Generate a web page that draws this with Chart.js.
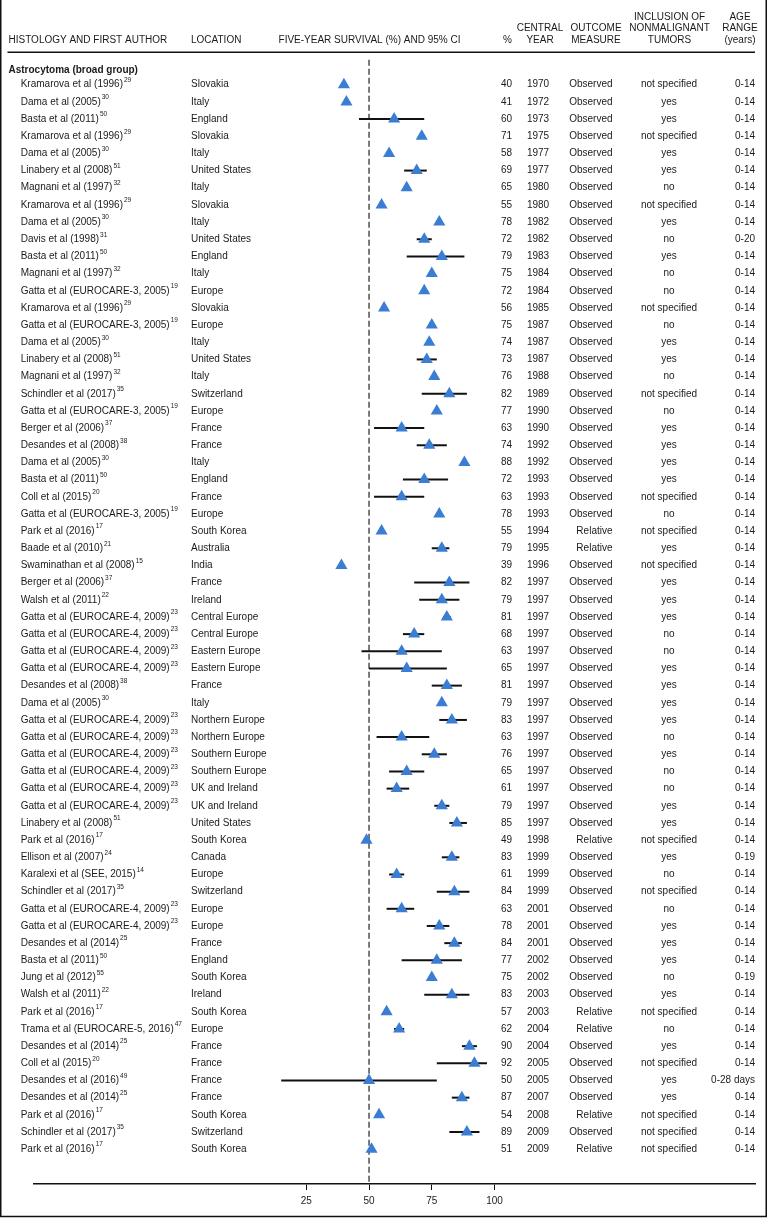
<!DOCTYPE html>
<html><head><meta charset="utf-8">
<script src="https://cdn.jsdelivr.net/npm/chart.js@4.4.0/dist/chart.umd.min.js"></script>
<style>html,body{margin:0;padding:0;background:#fff;}#wrap{position:relative;width:768px;height:1218px;}</style>
</head><body><div id="wrap"><canvas id="c" width="768" height="1218"></canvas></div>
<script>
const groupTitle = 'Astrocytoma (broad group)';
const authors = [
 'Kramarova et al (1996)','Dama et al (2005)','Basta et al (2011)','Kramarova et al (1996)','Dama et al (2005)',
 'Linabery et al (2008)','Magnani et al (1997)','Kramarova et al (1996)','Dama et al (2005)','Davis et al (1998)',
 'Basta et al (2011)','Magnani et al (1997)','Gatta et al (EUROCARE-3, 2005)','Kramarova et al (1996)','Gatta et al (EUROCARE-3, 2005)',
 'Dama et al (2005)','Linabery et al (2008)','Magnani et al (1997)','Schindler et al (2017)','Gatta et al (EUROCARE-3, 2005)',
 'Berger et al (2006)','Desandes et al (2008)','Dama et al (2005)','Basta et al (2011)','Coll et al (2015)',
 'Gatta et al (EUROCARE-3, 2005)','Park et al (2016)','Baade et al (2010)','Swaminathan et al (2008)','Berger et al (2006)',
 'Walsh et al (2011)','Gatta et al (EUROCARE-4, 2009)','Gatta et al (EUROCARE-4, 2009)','Gatta et al (EUROCARE-4, 2009)','Gatta et al (EUROCARE-4, 2009)',
 'Desandes et al (2008)','Dama et al (2005)','Gatta et al (EUROCARE-4, 2009)','Gatta et al (EUROCARE-4, 2009)','Gatta et al (EUROCARE-4, 2009)',
 'Gatta et al (EUROCARE-4, 2009)','Gatta et al (EUROCARE-4, 2009)','Gatta et al (EUROCARE-4, 2009)','Linabery et al (2008)','Park et al (2016)',
 'Ellison et al (2007)','Karalexi et al (SEE, 2015)','Schindler et al (2017)','Gatta et al (EUROCARE-4, 2009)','Gatta et al (EUROCARE-4, 2009)',
 'Desandes et al (2014)','Basta et al (2011)','Jung et al (2012)','Walsh et al (2011)','Park et al (2016)',
 'Trama et al (EUROCARE-5, 2016)','Desandes et al (2014)','Coll et al (2015)','Desandes et al (2016)','Desandes et al (2014)',
 'Park et al (2016)','Schindler et al (2017)','Park et al (2016)'];
const refs = [
 '29','30','50','29','30','51','32','29','30','31',
 '50','32','19','29','19','30','51','32','35','19',
 '37','38','30','50','20','19','17','21','15','37',
 '22','23','23','23','23','38','30','23','23','23',
 '23','23','23','51','17','24','14','35','23','23',
 '25','50','55','22','17','47','25','20','49','25',
 '17','35','17'];
const locations = [
 'Slovakia','Italy','England','Slovakia','Italy','United States','Italy','Slovakia','Italy','United States',
 'England','Italy','Europe','Slovakia','Europe','Italy','United States','Italy','Switzerland','Europe',
 'France','France','Italy','England','France','Europe','South Korea','Australia','India','France',
 'Ireland','Central Europe','Central Europe','Eastern Europe','Eastern Europe','France','Italy','Northern Europe','Northern Europe','Southern Europe',
 'Southern Europe','UK and Ireland','UK and Ireland','United States','South Korea','Canada','Europe','Switzerland','Europe','Europe',
 'France','England','South Korea','Ireland','South Korea','Europe','France','France','France','France',
 'South Korea','Switzerland','South Korea'];
const survival = [
 40,41,60,71,58,69,65,55,78,72,
 79,75,72,56,75,74,73,76,82,77,
 63,74,88,72,63,78,55,79,39,82,
 79,81,68,63,65,81,79,83,63,76,
 65,61,79,85,49,83,61,84,63,78,
 84,77,75,83,57,62,90,92,50,87,
 54,89,51];
const ciLow = [
 null,null,46,null,null,64,null,null,null,69,
 65,null,null,null,null,null,69,null,71,null,
 52,69,null,63.5,52,null,null,75,null,68,
 70,79.5,63.5,47,50,75,null,78,53,71,
 58,57,76,82,null,79,58,77,57,73,
 80,63,null,72,null,60,87,77,15,83,
 null,82,null];
const ciHigh = [
 null,null,72,null,null,73,null,null,null,75,
 88,null,null,null,null,null,77,null,89,null,
 72,81,null,81.5,72,null,null,82,null,90,
 86,82.5,72,79,81,87,null,89,74,81,
 72,66,82,89,null,86,64,90,68,82,
 87,87,null,90,null,64,93,97,77,90,
 null,94,null];
const centralYear = [
 1970,1972,1973,1975,1977,1977,1980,1980,1982,1982,
 1983,1984,1984,1985,1987,1987,1987,1988,1989,1990,
 1990,1992,1992,1993,1993,1993,1994,1995,1996,1997,
 1997,1997,1997,1997,1997,1997,1997,1997,1997,1997,
 1997,1997,1997,1997,1998,1999,1999,1999,2001,2001,
 2001,2002,2002,2003,2003,2004,2004,2005,2005,2007,
 2008,2009,2009];
const outcome = [
 'Observed','Observed','Observed','Observed','Observed','Observed','Observed','Observed','Observed','Observed',
 'Observed','Observed','Observed','Observed','Observed','Observed','Observed','Observed','Observed','Observed',
 'Observed','Observed','Observed','Observed','Observed','Observed','Relative','Relative','Observed','Observed',
 'Observed','Observed','Observed','Observed','Observed','Observed','Observed','Observed','Observed','Observed',
 'Observed','Observed','Observed','Observed','Relative','Observed','Observed','Observed','Observed','Observed',
 'Observed','Observed','Observed','Observed','Relative','Relative','Observed','Observed','Observed','Observed',
 'Relative','Observed','Relative'];
const inclusion = [
 'not specified','yes','yes','not specified','yes','yes','no','not specified','yes','no',
 'yes','no','no','not specified','no','yes','yes','no','not specified','no',
 'yes','yes','yes','yes','not specified','no','not specified','yes','not specified','yes',
 'yes','yes','no','no','yes','yes','yes','yes','no','yes',
 'no','no','yes','yes','not specified','yes','no','not specified','no','yes',
 'yes','yes','no','yes','not specified','no','yes','not specified','yes','yes',
 'not specified','not specified','not specified'];
const ageRange = [
 '0-14','0-14','0-14','0-14','0-14','0-14','0-14','0-14','0-14','0-20',
 '0-14','0-14','0-14','0-14','0-14','0-14','0-14','0-14','0-14','0-14',
 '0-14','0-14','0-14','0-14','0-14','0-14','0-14','0-14','0-14','0-14',
 '0-14','0-14','0-14','0-14','0-14','0-14','0-14','0-14','0-14','0-14',
 '0-14','0-14','0-14','0-14','0-14','0-19','0-14','0-14','0-14','0-14',
 '0-14','0-14','0-19','0-14','0-14','0-14','0-14','0-14','0-28 days','0-14',
 '0-14','0-14','0-14'];
const xTicks = [25,50,75,100];
const referenceValue = 50;

const FONT = '"Liberation Sans", Arial, Helvetica, sans-serif';
const TXT = '#1a1a1a';
const BLUE = '#3a7dd3';

const datasets = [];
datasets.push({
  label:'survival', data: survival.map((v,i)=>({x:v,y:i+1})),
  pointStyle:'triangle', pointRadius:7, pointHoverRadius:7,
  backgroundColor:BLUE, borderColor:BLUE, borderWidth:0, showLine:false, order:0
});
ciLow.forEach((lo,i)=>{
  if(lo===null) return;
  datasets.push({label:'ci'+i, data:[{x:lo,y:i+1},{x:ciHigh[i],y:i+1}], showLine:true,
    borderColor:'#111', borderWidth:2, pointRadius:0, order:1});
});
datasets.push({label:'ref', data:[{x:referenceValue,y:-0.45},{x:referenceValue,y:65.03}], showLine:true,
  borderColor:'#222', borderWidth:1.2, borderDash:[6,3], pointRadius:0, order:2});

const textPlugin = {
  id:'forestText',
  afterDraw(chart){
    const ctx = chart.ctx, ys = chart.scales.y;
    ctx.save();
    ctx.fillStyle = TXT;
    ctx.textBaseline = 'middle';
    // header
    ctx.font = '10px '+FONT;
    const hy = [17, 28.7, 40.3];
    ctx.textAlign='left';
    ctx.fillText('HISTOLOGY AND FIRST AUTHOR', 8.5, hy[2]);
    ctx.fillText('LOCATION', 191, hy[2]);
    ctx.textAlign='center';
    ctx.fillText('FIVE-YEAR SURVIVAL (%) AND 95% CI', 369.5, hy[2]);
    ctx.textAlign='right';
    ctx.fillText('%', 512, hy[2]);
    ctx.textAlign='center';
    ctx.fillText('CENTRAL', 540, hy[1]); ctx.fillText('YEAR', 540, hy[2]);
    ctx.fillText('OUTCOME', 596, hy[1]); ctx.fillText('MEASURE', 596, hy[2]);
    ctx.fillText('INCLUSION OF', 669.5, hy[0]); ctx.fillText('NONMALIGNANT', 669.5, hy[1]); ctx.fillText('TUMORS', 669.5, hy[2]);
    ctx.fillText('AGE', 740, hy[0]); ctx.fillText('RANGE', 740, hy[1]); ctx.fillText('(years)', 740, hy[2]);
    // header rule
    ctx.strokeStyle='#111'; ctx.lineWidth=1.5;
    ctx.beginPath(); ctx.moveTo(7.5,52.3); ctx.lineTo(755,52.3); ctx.stroke();
    // group title
    ctx.textAlign='left';
    ctx.font = 'bold 10px '+FONT;
    ctx.fillText(groupTitle, 8.5, ys.getPixelForValue(0.13));
    // rows
    authors.forEach((a,i)=>{
      const y = ys.getPixelForValue(i+1);
      ctx.font = '10px '+FONT;
      ctx.textAlign='left';
      ctx.fillText(a, 20.7, y);
      const w = ctx.measureText(a).width;
      ctx.fillText(locations[i], 191, y);
      ctx.textAlign='right';
      ctx.fillText(String(survival[i]), 512, y);
      ctx.textAlign='center';
      ctx.fillText(String(centralYear[i]), 538, y);
      ctx.textAlign='right';
      ctx.fillText(outcome[i], 612.5, y);
      ctx.textAlign='center';
      ctx.fillText(inclusion[i], 669, y);
      ctx.textAlign='right';
      ctx.fillText(ageRange[i], 755, y);
      ctx.font = '6.5px '+FONT;
      ctx.textAlign='left';
      ctx.fillText(refs[i], 20.7+w+1, y-4.5);
    });
    // frame
    ctx.strokeStyle='#111'; ctx.lineWidth=1.5;
    ctx.beginPath();
    ctx.moveTo(0.75,0); ctx.lineTo(0.75,1216.5); ctx.lineTo(766.25,1216.5); ctx.lineTo(766.25,0);
    ctx.stroke();
    ctx.restore();
  }
};

new Chart(document.getElementById('c'), {
  type:'scatter',
  data:{datasets},
  options:{
    responsive:false, animation:false, events:[],
    layout:{padding:{left:34,right:13,top:0,bottom:0}},
    plugins:{legend:{display:false}, tooltip:{enabled:false}},
    scales:{
      x:{type:'linear', min:-83.5, max:203.8,
        afterBuildTicks:s=>{s.ticks = xTicks.map(v=>({value:v}));},
        afterFit:s=>{s.height=34;},
        grid:{drawOnChartArea:false, drawTicks:true, tickLength:6, color:'#111', lineWidth:1},
        border:{display:true, color:'#111', width:1.5},
        ticks:{font:{family:FONT,size:10}, color:TXT, padding:5, maxRotation:0, autoSkip:false}
      },
      y:{type:'linear', reverse:true, min:-3.528, max:65.03, display:false}
    }
  },
  plugins:[textPlugin]
});
</script></body></html>
